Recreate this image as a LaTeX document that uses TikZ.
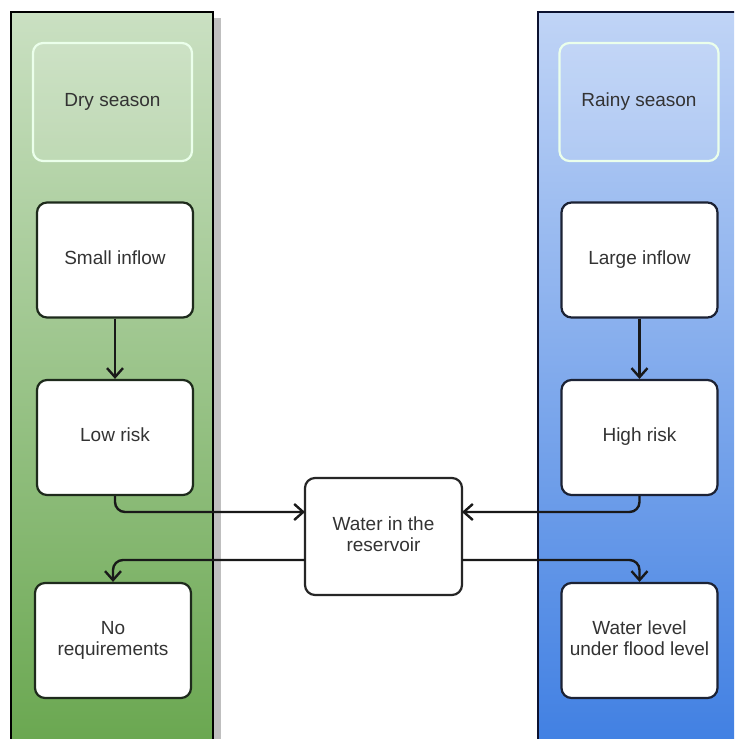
\documentclass[tikz,border=0pt]{standalone}
\usepackage{fontspec}
\setmainfont{Liberation Sans}
\usetikzlibrary{arrows.meta}

\definecolor{greentop}{RGB}{202,224,194}
\definecolor{greenbot}{RGB}{104,166,78}
\definecolor{bluetop}{RGB}{192,212,246}
\definecolor{bluebot}{RGB}{62,126,226}
\definecolor{txt}{RGB}{51,51,51}
\definecolor{gborder}{RGB}{30,42,28}
\definecolor{bborder}{RGB}{28,34,52}
\definecolor{laneblue}{RGB}{12,18,48}

\tikzset{
  lane/.style={line width=1.3pt},
  season/.style={draw=white!92!green, line width=1.1pt, rounded corners=5pt,
    fill=white, fill opacity=0.12, text opacity=1, text=txt,
    minimum width=79.5pt, minimum height=59pt, inner sep=0pt},
  stepbox/.style={fill=white, line width=1.1pt, rounded corners=5pt, text=txt,
    minimum width=78pt, minimum height=57.5pt, inner sep=0pt, align=center,
    font=\fontsize{9.5}{10.5}\selectfont},
  flow/.style={line width=1.2pt, draw=black!90, rounded corners=5pt,
    -{Straight Barb[length=4.5pt,width=8pt,line width=1.2pt]}},
}

\begin{document}
\begin{tikzpicture}[x=0.5pt, y=-0.5pt, font=\fontsize{9.5}{10.5}\selectfont]
  \useasboundingbox (0,0) rectangle (734,739);
  \clip (0,0) rectangle (734,739);
  \fill[white] (0,0) rectangle (734,739);

  % swimlanes
  \fill[black!25] (213,18) rectangle (221,760);
  \shade[top color=greentop, bottom color=greenbot] (11,12) rectangle (213,760);
  \draw[lane, black] (11,760) -- (11,12) -- (213,12) -- (213,760);
  \shade[top color=bluetop, bottom color=bluebot] (538,12) rectangle (760,760);
  \draw[lane, laneblue] (538,760) -- (538,12) -- (760,12);

  % lane headers
  \node[season] (dry) at (112.5,102) {\strut Dry season};
  \node[season] (rainy) at (639,102) {\strut Rainy season};

  % dry season steps
  \node[stepbox, draw=gborder] (small) at (115,260) {\strut Small inflow};
  \node[stepbox, draw=gborder] (low) at (115,437.5) {\strut Low risk};
  \node[stepbox, draw=gborder] (noreq) at (113,640.5) {\strut No\\\strut requirements};

  % rainy season steps
  \node[stepbox, draw=bborder] (large) at (639.5,260) {\strut Large inflow};
  \node[stepbox, draw=bborder] (high) at (639.5,437.5) {\strut High risk};
  \node[stepbox, draw=bborder] (wlevel) at (639.5,640.5) {\strut Water level\\\strut under flood level};

  % shared state
  \node[stepbox, draw=black!85, minimum width=78.5pt, minimum height=58.5pt]
    (water) at (383.5,536.5) {\strut Water in the\\\strut reservoir};

  % connector ends on the reservoir box
  \coordinate (inL) at (305,512);
  \coordinate (inR) at (462,512);
  \coordinate (outL) at (305,560);
  \coordinate (outR) at (462,560);

  % connectors
  \draw[flow] (small.south) -- (low.north);
  \draw[flow] (large.south) -- (high.north);
  \draw[flow] (low.south) |- (inL);
  \draw[flow] (high.south) |- (inR);
  \draw[flow] (outL) -| (noreq.north);
  \draw[flow] (outR) -| (wlevel.north);
\end{tikzpicture}
\end{document}
